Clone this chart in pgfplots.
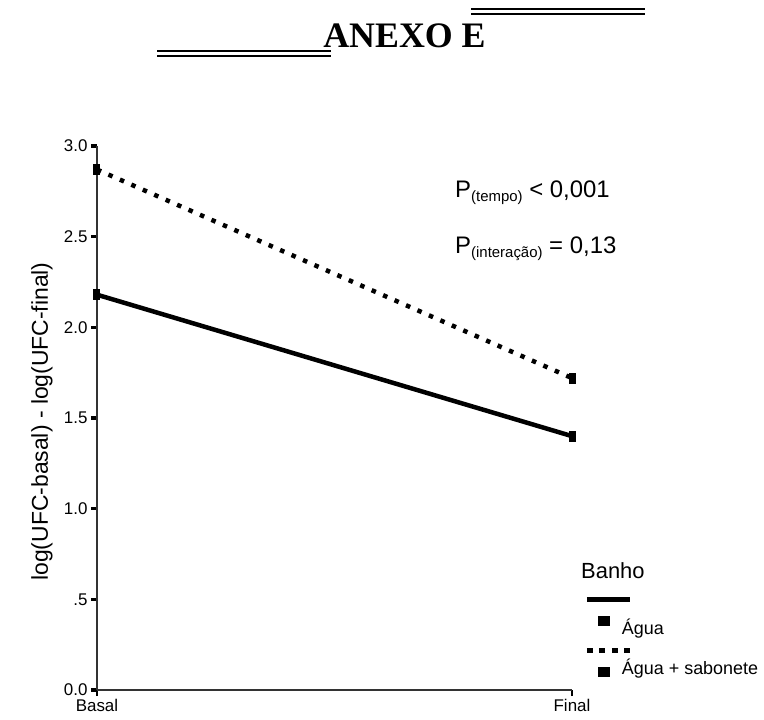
\documentclass[border=0pt]{standalone}
\usepackage{fontspec}
\setmainfont{Liberation Sans}
\newfontfamily\titlefont{Liberation Serif}
\usepackage{pgfplots}
\pgfplotsset{compat=1.18}

% tall rectangular marker used by the chart
\pgfdeclareplotmark{tallrect}{%
    \pgfpathrectangle{\pgfpoint{-3.5bp}{-5.5bp}}{\pgfpoint{7bp}{11bp}}%
    \pgfusepathqfill}

\begin{document}
\begin{tikzpicture}
\begin{axis}[
    scale only axis,
    width=475bp, height=544bp,
    at={(0,0)}, anchor=south west,
    xmin=0, xmax=1, ymin=0, ymax=3,
    axis x line*=bottom, axis y line*=left,
    axis line style={-, black!80, line width=1.5bp},
    clip=false,
    xtick={0,1}, xticklabels={Basal,Final},
    ytick={0,0.5,1,1.5,2,2.5,3},
    yticklabels={0.0,.5,1.0,1.5,2.0,2.5,3.0},
    tick align=outside,
    major tick length=6bp,
    ytick style={black, line width=3.5bp},
    xtick style={black, line width=1.5bp},
    ticklabel style={font=\fontsize{17}{17}\selectfont},
    /pgf/number format/assume math mode=true,
    ylabel={log(UFC-basal) - log(UFC-final)},
    ylabel style={at={(axis description cs:-0.1158,0.4936)}, anchor=center,
        font=\fontsize{23}{23}\selectfont},
    legend cell align=left,
    legend style={draw=none, fill=none, inner sep=0pt, outer sep=0pt,
        at={(axis description cs:1.0547,0.1232)}, anchor=north west,
        row sep=28bp, column sep=12bp,
        font=\fontsize{18}{18}\selectfont,
        nodes={inner sep=0pt, text height=12bp, text depth=0bp}},
]
% Agua
\addplot[black, line width=4.5bp, mark=tallrect,
    mark options={solid, fill=black},
    legend image code/.code={
        \path[overlay, fill=black, draw=none, solid] (-6bp,3bp) rectangle (6bp,13bp);
        \draw[overlay, solid, line width=5bp] (-17bp,29bp) -- (26bp,29bp);
        \path[draw=none, fill=none] (-6bp,-1bp) rectangle (6bp,1bp);
    }]
    coordinates {(0,2.18) (1,1.40)};
\addlegendentry{Água}
% Agua + sabonete
\addplot[black, line width=4.5bp, dash pattern=on 4.5bp off 8bp,
    mark=tallrect, mark options={solid, fill=black},
    legend image code/.code={
        \path[overlay, fill=black, draw=none, solid] (-6bp,-8bp) rectangle (6bp,2bp);
        \draw[overlay, line width=5bp, dash pattern=on 6bp off 6.5bp] (-17bp,18bp) -- (26bp,18bp);
        \path[draw=none, fill=none] (-6bp,-1bp) rectangle (6bp,1bp);
    }]
    coordinates {(0,2.87) (1,1.72)};
\addlegendentry{Água + sabonete}
\end{axis}

% title with its rules
\node[anchor=base, inner sep=0pt, font={\fontsize{36}{36}\selectfont\titlefont\bfseries}]
    at (307.5bp,642bp) {ANEXO E};
\draw[line width=1.7bp] (60bp,639.3bp) -- (234bp,639.3bp);
\draw[line width=1.7bp] (60bp,634bp) -- (234bp,634bp);
\draw[line width=1.7bp] (374bp,681bp) -- (548bp,681bp);
\draw[line width=1.7bp] (374bp,676bp) -- (548bp,676bp);

% p-values
\node[anchor=base west, inner sep=0pt, font=\fontsize{24}{24}\selectfont] at (358bp,492bp)
    {P\raisebox{-4bp}{\fontsize{15}{15}\selectfont(tempo)} < 0,001};
\node[anchor=base west, inner sep=0pt, font=\fontsize{24}{24}\selectfont] at (358bp,436bp)
    {P\raisebox{-4bp}{\fontsize{15}{15}\selectfont(interação)} = 0,13};

% legend title
\node[anchor=base west, inner sep=0pt, font=\fontsize{22}{22}\selectfont] at (484bp,111bp) {Banho};

\pgfresetboundingbox
\useasboundingbox (-97bp,-30bp) rectangle (667bp,690bp);
\end{tikzpicture}
\end{document}
